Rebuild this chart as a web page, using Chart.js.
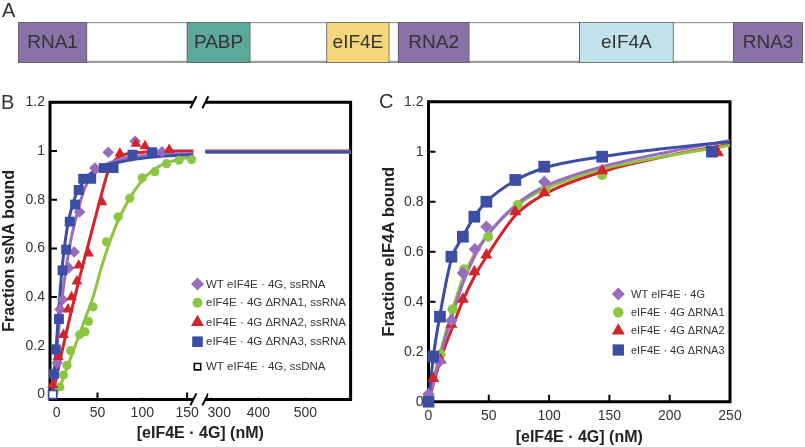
<!DOCTYPE html>
<html><head><meta charset="utf-8">
<script src="https://cdn.jsdelivr.net/npm/chart.js@4.4.1/dist/chart.umd.min.js"></script>
<style>
html,body{margin:0;padding:0;background:#fff;width:805px;height:447px;overflow:hidden;font-family:'Liberation Sans',Arial,Helvetica,sans-serif;}
canvas{position:absolute;}
.lbl{position:absolute;font-size:20px;line-height:23px;color:#333;}
</style></head><body>
<canvas id="a" width="805" height="85" style="left:0;top:0"></canvas>
<canvas id="b" width="380" height="362" style="left:0;top:85px"></canvas>
<canvas id="c" width="425" height="362" style="left:380px;top:85px"></canvas>
<div class="lbl" style="left:2px;top:-1px">A</div>
<div class="lbl" style="left:1px;top:91px">B</div>
<div class="lbl" style="left:379px;top:90px">C</div>
<script>
// ---------------- Panel A: domain map (positions in % of eIF4G fragment length) ----------------
const domainNames  = ['RNA1','PABP','eIF4E','RNA2','eIF4A','RNA3'];
const domainStart  = [0, 21.5, 39.3, 48.4, 71.5, 91.1];
const domainEnd    = [8.8, 29.6, 47.3, 57.5, 83.5, 100];
const backboneSpan = [0, 100];

// ---------------- Panel B: ssRNA binding (x = nM) ----------------
const bTickValues = [0, 50, 100, 150, 300, 400, 500];
const bTickLabels = ['  0', '50', '100', '150', '    300', '400', '500'];
const yTickValues = [0, 0.2, 0.4, 0.6, 0.8, 1, 1.2];
const yTickLabels = ['0', '0.2', '0.4', '0.6', '0.8', '1', '1.2'];

const wtB_x = [5, 8, 11, 18, 24, 30, 47, 62, 92, 122];
const wtB_y = [0.13, 0.35, 0.39, 0.52, 0.585, 0.75, 0.93, 0.995, 1.04, 0.997];
const d1B_x = [8, 12, 16, 20, 30, 36, 40, 45, 60, 73, 86, 100, 114, 127, 141, 155];
const d1B_y = [0.03, 0.08, 0.12, 0.18, 0.245, 0.258, 0.30, 0.36, 0.627, 0.73, 0.806, 0.89, 0.915, 0.948, 0.962, 0.965];
const d2B_x = [0, 6, 12, 17, 21, 27, 29, 40, 55, 75, 93, 103, 130];
const d2B_y = [0.04, 0.155, 0.245, 0.35, 0.40, 0.465, 0.53, 0.58, 0.79, 0.99, 1.03, 1.02, 1.005];
const d3B_x = [0, 1.5, 3.5, 7, 11, 15, 19, 25, 29, 34, 43, 57, 68, 89, 111];
const d3B_y = [0, 0.085, 0.185, 0.31, 0.51, 0.595, 0.71, 0.78, 0.84, 0.886, 0.886, 0.93, 0.93, 0.985, 0.995];
const dnaB_x = [0, 10, 20, 40, 60, 80, 100, 300, 400, 500];
const dnaB_y = [0, 0, 0, 0, 0, 0, 0, 0, 0, 0];

// fitted curves (left segment, then right segment)
const wtFitB_x = [0, 5, 10, 15, 20, 25, 30, 36, 45, 60, 80, 110, 157];
const wtFitB_y = [0, 0.2, 0.38, 0.52, 0.63, 0.71, 0.78, 0.85, 0.9, 0.945, 0.97, 0.985, 0.99];
const d1FitB_x = [5, 20, 35, 45, 55, 65, 75, 90, 105, 120, 140, 157];
const d1FitB_y = [0, 0.15, 0.3, 0.4, 0.53, 0.64, 0.73, 0.83, 0.9, 0.94, 0.965, 0.975];
const d2FitB_x = [0, 10, 20, 30, 40, 50, 58, 63, 70, 80, 100, 130, 157];
const d2FitB_y = [0, 0.17, 0.33, 0.48, 0.62, 0.76, 0.87, 0.93, 0.965, 0.985, 0.995, 1.0, 1.0];
const d3FitB_x = [0, 2, 4, 7, 10, 13, 16, 20, 25, 30, 40, 55, 75, 100, 130, 157];
const d3FitB_y = [0, 0.1, 0.2, 0.36, 0.5, 0.6, 0.68, 0.75, 0.81, 0.85, 0.9, 0.935, 0.955, 0.97, 0.98, 0.985];
const fitRightB_x = [287, 596];
const wtFitRightB_y = [0.998, 0.998];
const d1FitRightB_y = [0.995, 0.995];
const d2FitRightB_y = [1.0, 1.0];
const d3FitRightB_y = [0.996, 0.996];

// ---------------- Panel C: eIF4A binding (x = nM) ----------------
const cTickValues = [0, 50, 100, 150, 200, 250];
const cTickLabels = ['0', '50', '100', '150', '200', '250'];
const wtC_x = [0, 9, 19, 28.5, 38.5, 48, 96];
const wtC_y = [0.03, 0.16, 0.325, 0.515, 0.61, 0.70, 0.88];
const d1C_x = [10, 20, 29.5, 49.5, 74, 97, 144];
const d1C_y = [0.19, 0.37, 0.53, 0.66, 0.787, 0.85, 0.907];
const d2C_x = [4, 10, 19, 28.5, 38, 48, 72, 96, 144, 240];
const d2C_y = [0.093, 0.167, 0.31, 0.41, 0.52, 0.587, 0.76, 0.836, 0.924, 0.996];
const d3C_x = [0, 4, 9.5, 19, 28.5, 38, 48, 72, 96, 144, 235];
const d3C_y = [0, 0.18, 0.34, 0.58, 0.66, 0.74, 0.80, 0.887, 0.94, 0.98, 1.0];

const wtFitC_x = [0, 10, 20, 29, 38, 48, 72, 96, 144, 200, 250];
const wtFitC_y = [0, 0.19, 0.35, 0.48, 0.58, 0.66, 0.785, 0.86, 0.94, 1.0, 1.045];
const d1FitC_x = [0, 10, 20, 29, 38, 48, 72, 96, 144, 200, 250];
const d1FitC_y = [0, 0.2, 0.37, 0.5, 0.59, 0.66, 0.78, 0.85, 0.93, 0.985, 1.025];
const d2FitC_x = [0, 4, 10, 20, 29, 38, 48, 72, 96, 144, 200, 250];
const d2FitC_y = [0, 0.07, 0.17, 0.30, 0.41, 0.50, 0.58, 0.745, 0.83, 0.92, 0.985, 1.03];
const d3FitC_x = [0, 4, 10, 19, 29, 38, 48, 72, 96, 144, 200, 250];
const d3FitC_y = [0, 0.18, 0.36, 0.57, 0.665, 0.74, 0.80, 0.885, 0.935, 0.98, 1.015, 1.04];

const bLegendLabels = ['WT eIF4E · 4G, ssRNA', 'eIF4E · 4G ΔRNA1, ssRNA', 'eIF4E · 4G ΔRNA2, ssRNA', 'eIF4E · 4G ΔRNA3, ssRNA', 'WT eIF4E · 4G, ssDNA'];
const cLegendLabels = ['WT eIF4E · 4G', 'eIF4E · 4G ΔRNA1', 'eIF4E · 4G ΔRNA2', 'eIF4E · 4G ΔRNA3'];

// ---------------- styles ----------------
const FONT = "'Liberation Sans', Arial, Helvetica, sans-serif";
Chart.defaults.font.family = FONT;
Chart.defaults.color = '#333';
const COL = {wt:'#9a6cc0', d1:'#8cc641', d2:'#d4232b', d3:'#3c4ea3'};
const domainColors = ['#8a72a9', '#5ca99b', '#f4d67b', '#8a72a9', '#c1e2ea', '#8a72a9'];

// broken x axis mapping for panel B (left 0-157 nM, right 287-596 nM)
const LEFT_END = 157, RIGHT_START = 287, GAP = 12, KL = 0.896, KR = 0.47;
function brk(x){ return x <= LEFT_END ? x * KL : LEFT_END * KL + GAP + (x - RIGHT_START) * KR; }
const ident = v => v;
function pts(xs, ys, map){ return xs.map((x, i) => ({x: map(x), y: ys[i]})); }

function markerDS(label, xs, ys, style, color, radius, order, map){
  return {label, data: pts(xs, ys, map), showLine: false, pointStyle: style, pointRadius: radius,
    pointBackgroundColor: color, pointBorderColor: color, pointBorderWidth: 0, clip: false, order};
}
function curveDS(label, data, color, order){
  return {label, data, showLine: true, borderColor: color, borderWidth: 3, pointRadius: 0,
    cubicInterpolationMode: 'monotone', fill: false, clip: false, order, borderJoinStyle: 'round'};
}
function splitCurve(xl, yl, xr, yr){
  return pts(xl, yl, brk).concat([{x: brk(220), y: null}], pts(xr, yr, brk));
}

// ---------------- plugins ----------------
const framePlugin = {
  id: 'frame',
  beforeDatasetsDraw(chart, args, o){
    const {ctx, chartArea: {left, right, top, bottom}} = chart;
    const xs = chart.scales.x, ys = chart.scales.y;
    ctx.save();
    ctx.strokeStyle = '#000'; ctx.lineWidth = 3; ctx.lineJoin = 'miter'; ctx.lineCap = 'butt';
    ctx.beginPath();
    if (o.breakFrom != null) {
      const bL = xs.getPixelForValue(o.breakFrom), bR = xs.getPixelForValue(o.breakTo);
      ctx.moveTo(bL, top); ctx.lineTo(left, top); ctx.lineTo(left, bottom); ctx.lineTo(bL, bottom);
      ctx.moveTo(bR, top); ctx.lineTo(right, top); ctx.lineTo(right, bottom); ctx.lineTo(bR, bottom);
      ctx.stroke();
      ctx.lineWidth = 2; ctx.beginPath();
      for (const bx of [bL, bR]) for (const by of [top, bottom]) { ctx.moveTo(bx - 3, by + 6); ctx.lineTo(bx + 3, by - 6); }
      ctx.stroke();
    } else {
      ctx.rect(left, top, right - left, bottom - top); ctx.stroke();
    }
    ctx.lineWidth = 2; ctx.beginPath();
    ys.ticks.forEach(t => { const y = ys.getPixelForValue(t.value); ctx.moveTo(left, y); ctx.lineTo(left + 7, y); });
    xs.ticks.forEach(t => { const x = xs.getPixelForValue(t.value); ctx.moveTo(x, bottom); ctx.lineTo(x, bottom - 7); });
    ctx.stroke();
    ctx.restore();
  }
};

function drawIcon(ctx, style, x, y, r, color){
  ctx.save();
  ctx.fillStyle = color; ctx.strokeStyle = color;
  ctx.beginPath();
  if (style === 'rectRot') { ctx.moveTo(x, y - r); ctx.lineTo(x + r, y); ctx.lineTo(x, y + r); ctx.lineTo(x - r, y); ctx.closePath(); ctx.fill(); }
  else if (style === 'circle') { ctx.arc(x, y, r, 0, Math.PI * 2); ctx.fill(); }
  else if (style === 'triangle') { ctx.moveTo(x, y - r); ctx.lineTo(x + r * 0.866, y + r * 0.5); ctx.lineTo(x - r * 0.866, y + r * 0.5); ctx.closePath(); ctx.fill(); }
  else if (style === 'rect') { const s = r * Math.SQRT1_2; ctx.rect(x - s, y - s, 2 * s, 2 * s); ctx.fill(); }
  else if (style === 'openRect') { const s = r * Math.SQRT1_2; ctx.fillStyle = '#fff'; ctx.strokeStyle = '#000'; ctx.lineWidth = 1.6; ctx.rect(x - s, y - s, 2 * s, 2 * s); ctx.fill(); ctx.stroke(); }
  ctx.restore();
}
const legendPlugin = {
  id: 'insetLegend',
  afterDatasetsDraw(chart, args, o){
    const ctx = chart.ctx;
    ctx.save();
    ctx.font = o.fontSize + 'px ' + FONT; ctx.textBaseline = 'middle'; ctx.textAlign = 'left';
    o.labels.forEach((lab, i) => {
      const y = o.y0 + o.dy[i];
      drawIcon(ctx, o.styles[i], o.iconX, y, o.radii[i], o.colors[i]);
      ctx.fillStyle = '#333';
      ctx.fillText(lab, o.textX, y + 0.5);
    });
    ctx.restore();
  }
};
const domainLabelPlugin = {
  id: 'domainLabels',
  afterDatasetsDraw(chart){
    const ctx = chart.ctx;
    ctx.save();
    ctx.font = '19px ' + FONT; ctx.fillStyle = '#333'; ctx.textAlign = 'center'; ctx.textBaseline = 'middle';
    domainNames.forEach((n, i) => {
      const el = chart.getDatasetMeta(i).data[0];
      const p = el.getCenterPoint();
      ctx.fillText(n, p.x, p.y);
    });
    ctx.restore();
  }
};

// ---------------- Chart A ----------------
new Chart(document.getElementById('a'), {
  type: 'bar',
  data: {
    labels: ['eIF4G'],
    datasets: domainNames.map((n, i) => ({
      label: n, data: [[domainStart[i], domainEnd[i]]], backgroundColor: domainColors[i],
      borderColor: '#5a5a5a', borderWidth: 1, borderSkipped: false, grouped: false,
      barPercentage: 1, categoryPercentage: 1, order: 0
    })).concat([{
      label: 'backbone', data: [backboneSpan], backgroundColor: '#fff', borderColor: '#9a9a9a',
      borderWidth: {top: 1.5, bottom: 2.5, left: 0, right: 0}, borderSkipped: false, grouped: false,
      barPercentage: 1, categoryPercentage: 1, order: 1
    }])
  },
  options: {
    indexAxis: 'y', responsive: false, animation: false, devicePixelRatio: 1,
    layout: {padding: {left: 18, right: 2, top: 22, bottom: 22}},
    scales: {x: {display: false, min: 0, max: 100}, y: {display: false}},
    plugins: {legend: {display: false}, tooltip: {enabled: false}}
  },
  plugins: [domainLabelPlugin]
});

// ---------------- Chart B ----------------
const tickFont = {size: 14, family: FONT};
const titleFont = {size: 16, weight: 'bold', family: FONT};
new Chart(document.getElementById('b'), {
  type: 'scatter',
  data: {
    datasets: [
      markerDS('WT eIF4E·4G, ssDNA', dnaB_x, dnaB_y, 'rect', '#fff', 4.6, -1, brk),
      markerDS('ΔRNA3', d3B_x, d3B_y, 'rect', COL.d3, 7, 0, brk),
      markerDS('ΔRNA2', d2B_x, d2B_y, 'triangle', COL.d2, 6.3, 1, brk),
      markerDS('WT', wtB_x, wtB_y, 'rectRot', COL.wt, 5.8, 2, brk),
      markerDS('ΔRNA1', d1B_x, d1B_y, 'circle', COL.d1, 4.6, 3, brk),
      curveDS('fit ΔRNA3', splitCurve(d3FitB_x, d3FitB_y, fitRightB_x, d3FitRightB_y), COL.d3, 5),
      curveDS('fit WT', splitCurve(wtFitB_x, wtFitB_y, fitRightB_x, wtFitRightB_y), COL.wt, 6),
      curveDS('fit ΔRNA2', splitCurve(d2FitB_x, d2FitB_y, fitRightB_x, d2FitRightB_y), COL.d2, 7),
      curveDS('fit ΔRNA1', splitCurve(d1FitB_x, d1FitB_y, fitRightB_x, d1FitRightB_y), COL.d1, 8)
    ]
  },
  options: {
    responsive: false, animation: false, devicePixelRatio: 1,
    layout: {padding: {top: 17.3, right: 29.4, left: 0, bottom: 0}},
    plugins: {
      legend: {display: false}, tooltip: {enabled: false},
      frame: {breakFrom: brk(LEFT_END), breakTo: brk(RIGHT_START)},
      insetLegend: {
        labels: bLegendLabels, styles: ['rectRot', 'circle', 'triangle', 'rect', 'openRect'],
        colors: [COL.wt, COL.d1, COL.d2, COL.d3, '#000'], radii: [6.5, 5, 7.5, 7.5, 4.5],
        iconX: 197.5, textX: 206, y0: 199, dy: [0, 18.7, 38.3, 57.7, 82.7], fontSize: 11.5
      }
    },
    scales: {
      x: {
        type: 'linear', min: brk(-3), max: brk(596),
        afterFit(s){ s.height = 47.6; },
        afterBuildTicks(s){ s.ticks = bTickValues.map(v => ({value: brk(v)})); },
        ticks: {callback: (v, i) => bTickLabels[i], font: tickFont, color: '#333', padding: 5, maxRotation: 0, autoSkip: false},
        grid: {display: false, drawTicks: false}, border: {display: false},
        title: {display: true, text: '[eIF4E · 4G] (nM)', font: titleFont, color: '#222', padding: {top: 0, bottom: 3.4}}
      },
      y: {
        type: 'linear', min: -0.02, max: 1.2,
        afterFit(s){ s.width = 50; },
        afterBuildTicks(s){ s.ticks = yTickValues.map(v => ({value: v})); },
        ticks: {callback: (v, i) => yTickLabels[i], font: tickFont, color: '#333', padding: 5, autoSkip: false},
        grid: {display: false, drawTicks: false}, border: {display: false},
        title: {display: true, text: 'Fraction ssNA bound', font: titleFont, color: '#222', padding: {top: 0, bottom: 0}}
      }
    }
  },
  plugins: [framePlugin, legendPlugin]
});

// ---------------- Chart C ----------------
new Chart(document.getElementById('c'), {
  type: 'scatter',
  data: {
    datasets: [
      markerDS('ΔRNA3', d3C_x, d3C_y, 'rect', COL.d3, 8.3, 0, ident),
      markerDS('WT', wtC_x, wtC_y, 'rectRot', COL.wt, 6.2, 1, ident),
      markerDS('ΔRNA2', d2C_x, d2C_y, 'triangle', COL.d2, 7, 2, ident),
      markerDS('ΔRNA1', d1C_x, d1C_y, 'circle', COL.d1, 5, 3, ident),
      curveDS('fit ΔRNA3', pts(d3FitC_x, d3FitC_y, ident), COL.d3, 10),
      curveDS('fit WT', pts(wtFitC_x, wtFitC_y, ident), COL.wt, 11),
      curveDS('fit ΔRNA1', pts(d1FitC_x, d1FitC_y, ident), COL.d1, 12),
      curveDS('fit ΔRNA2', pts(d2FitC_x, d2FitC_y, ident), COL.d2, 13)
    ]
  },
  options: {
    responsive: false, animation: false, devicePixelRatio: 1,
    layout: {padding: {top: 16.7, right: 75, left: 0, bottom: 0}},
    plugins: {
      legend: {display: false}, tooltip: {enabled: false},
      frame: {},
      insetLegend: {
        labels: cLegendLabels, styles: ['rectRot', 'circle', 'triangle', 'rect'],
        colors: [COL.wt, COL.d1, COL.d2, COL.d3], radii: [6.5, 5.2, 7.5, 8],
        iconX: 238.3, textX: 251, y0: 209, dy: [0, 18.3, 36.7, 56], fontSize: 11
      }
    },
    scales: {
      x: {
        type: 'linear', min: 0, max: 250,
        afterFit(s){ s.height = 45.3; },
        afterBuildTicks(s){ s.ticks = cTickValues.map(v => ({value: v})); },
        ticks: {callback: (v, i) => cTickLabels[i], font: tickFont, color: '#333', padding: 6, maxRotation: 0, autoSkip: false},
        grid: {display: false, drawTicks: false}, border: {display: false},
        title: {display: true, text: '[eIF4E · 4G] (nM)', font: titleFont, color: '#222', padding: {top: 0, bottom: 0}}
      },
      y: {
        type: 'linear', min: 0, max: 1.2,
        afterFit(s){ s.width = 48.5; },
        afterBuildTicks(s){ s.ticks = yTickValues.map(v => ({value: v})); },
        ticks: {callback: (v, i) => yTickLabels[i], font: tickFont, color: '#333', padding: 5, autoSkip: false},
        grid: {display: false, drawTicks: false}, border: {display: false},
        title: {display: true, text: 'Fraction eIF4A bound', font: {size: 16.5, weight: 'bold', family: FONT}, color: '#222', padding: {top: 0, bottom: 0}}
      }
    }
  },
  plugins: [framePlugin, legendPlugin]
});
</script>
</body></html>
